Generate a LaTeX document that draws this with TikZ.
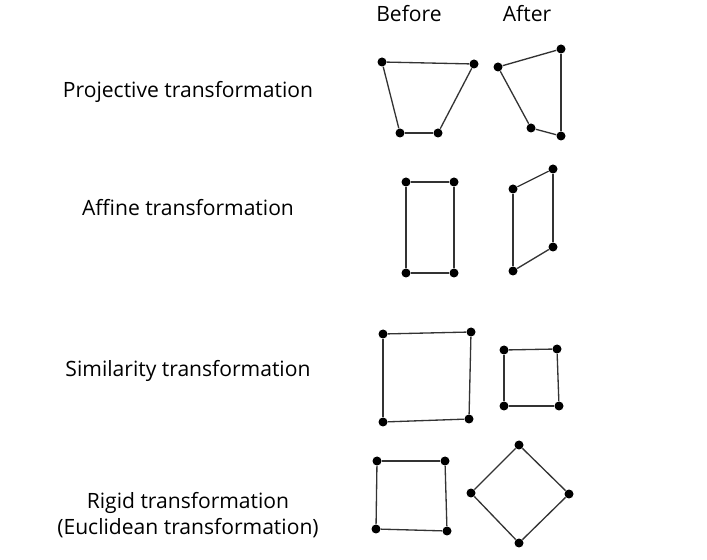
\documentclass[tikz,border=0pt]{standalone}
\usepackage{fontspec}
\setmainfont{Open Sans}
\usepackage{tikz}
\usetikzlibrary{positioning}

\begin{document}
\begin{tikzpicture}[
  x=0.02cm, y=-0.02cm,
  dot/.style={circle, fill=black, inner sep=0pt, minimum size=0.18cm},
  edge/.style={draw=black!80, line width=0.75pt},
  title/.style={font=\fontsize{12}{14.8}\selectfont, align=center, inner sep=0pt},
  head/.style={font=\fontsize{12}{14.8}\selectfont, inner sep=0pt}
]
\useasboundingbox (0,0) rectangle (707,560);

% Column Headers
\node[head] (before) at (409,14) {Before};
\node[head] (after) at (527,14) {After};

% Row Labels
\node[title] (proj) at (188,92) {Projective transformation};
\node[title] (aff) at (188,208) {Affine transformation};
\node[title] (sim) at (188,371) {Similarity transformation};
\node[title] (rig) at (188,515) {Rigid transformation\\(Euclidean transformation)};

% Projective Points
\node[dot] (pb1) at (382,62) {};
\node[dot] (pb2) at (474,64) {};
\node[dot] (pb3) at (438,133) {};
\node[dot] (pb4) at (400,133) {};
\node[dot] (pa1) at (498,67) {};
\node[dot] (pa2) at (561,49) {};
\node[dot] (pa3) at (561,136) {};
\node[dot] (pa4) at (531,128) {};

% Affine Points
\node[dot] (ab1) at (406,182) {};
\node[dot] (ab2) at (454,182) {};
\node[dot] (ab3) at (454,273) {};
\node[dot] (ab4) at (406,273) {};
\node[dot] (aa1) at (513,189) {};
\node[dot] (aa2) at (553,169) {};
\node[dot] (aa3) at (553,247) {};
\node[dot] (aa4) at (513,271) {};

% Similarity Points
\node[dot] (sb1) at (383,334) {};
\node[dot] (sb2) at (471,332) {};
\node[dot] (sb3) at (469,419) {};
\node[dot] (sb4) at (383,422) {};
\node[dot] (sa1) at (504,350) {};
\node[dot] (sa2) at (557,349) {};
\node[dot] (sa3) at (559,406) {};
\node[dot] (sa4) at (504,406) {};

% Rigid Points
\node[dot] (rb1) at (377,461) {};
\node[dot] (rb2) at (445,461) {};
\node[dot] (rb3) at (447,531) {};
\node[dot] (rb4) at (376,529) {};
\node[dot] (ra1) at (519,445) {};
\node[dot] (ra2) at (569,494) {};
\node[dot] (ra3) at (519,543) {};
\node[dot] (ra4) at (471,493) {};

% Quadrilateral Edges
\foreach \q in {pb,pa,ab,aa,sb,sa,rb,ra}{
  \draw[edge] (\q1) -- (\q2);
  \draw[edge] (\q2) -- (\q3);
  \draw[edge] (\q3) -- (\q4);
  \draw[edge] (\q4) -- (\q1);
}

\end{tikzpicture}
\end{document}
